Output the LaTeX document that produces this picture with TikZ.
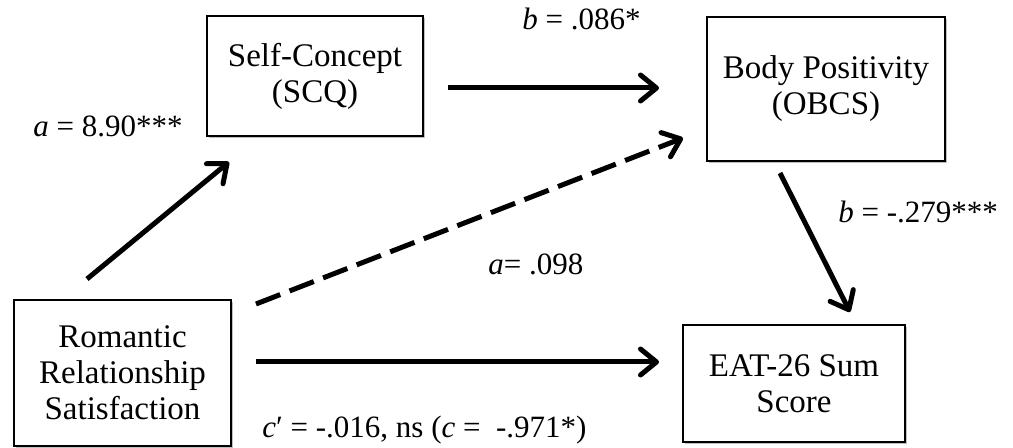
\documentclass[tikz,border=0pt]{standalone}
\usepackage{fontspec}
\setmainfont{Liberation Serif}
\usetikzlibrary{arrows.meta,shadows}
\begin{document}
\begin{tikzpicture}[x=0.5pt,y=-0.5pt,
  box/.style={draw, line width=1pt, fill=white, align=center, inner sep=0pt,
    font=\fontsize{16.5}{18}\selectfont,
    drop shadow={shadow xshift=0.8pt, shadow yshift=-1pt, fill=black, opacity=0.25}},
  lab/.style={anchor=base west, inner sep=0pt, font=\fontsize{15.5}{17}\selectfont},
  arr/.style={line width=2.5pt, -{Straight Barb[length=8pt,width=13pt,line cap=round,line join=round]}},
  darr/.style={arr, dash pattern=on 13pt off 5pt}]
\useasboundingbox (0,0) rectangle (1013,448);
\node[box, minimum width=108pt, minimum height=60pt] (sc) at (315,76) {Self-Concept\\(SCQ)};
\node[box, minimum width=119pt, minimum height=72pt] (bp) at (826,89) {Body Positivity\\(OBCS)};
\node[box, minimum width=108.5pt, minimum height=73pt] (rs) at (122.5,373) {Romantic\\Relationship\\Satisfaction};
\node[box, minimum width=111pt, minimum height=58.5pt] (ea) at (794,383.5) {EAT-26 Sum\\Score};
\draw[arr] ([shift={(24,12)}]sc.east) -- ([shift={(-47,-1)}]bp.west);
\draw[arr] ([shift={(-35.5,-20)}]rs.north) -- ([shift={(-86,25)}]sc.south);
\draw[darr] ([shift={(24,5)}]rs.north east) -- ([shift={(-23,-24)}]bp.south west);
\draw[arr] ([shift={(24,-11)}]rs.east) -- ([shift={(-23,-21.5)}]ea.west);
\draw[arr] ([shift={(-46,11)}]bp.south) -- ([shift={(56,-12)}]ea.north);
\node[lab] (la1) at (33,137) {\textit{a} = 8.90***};
\node[lab] (lb1) at (522,30) {\textit{b} = .086*};
\node[lab] (lb2) at (838,223) {\textit{b} = -.279***};
\node[lab] (la2) at (488,275) {\textit{a}= .098};
\node[lab] (lc) at (262,438) {\textit{c}′ = -.016, ns (\textit{c} =\ \ -.971*)};
\end{tikzpicture}
\end{document}
